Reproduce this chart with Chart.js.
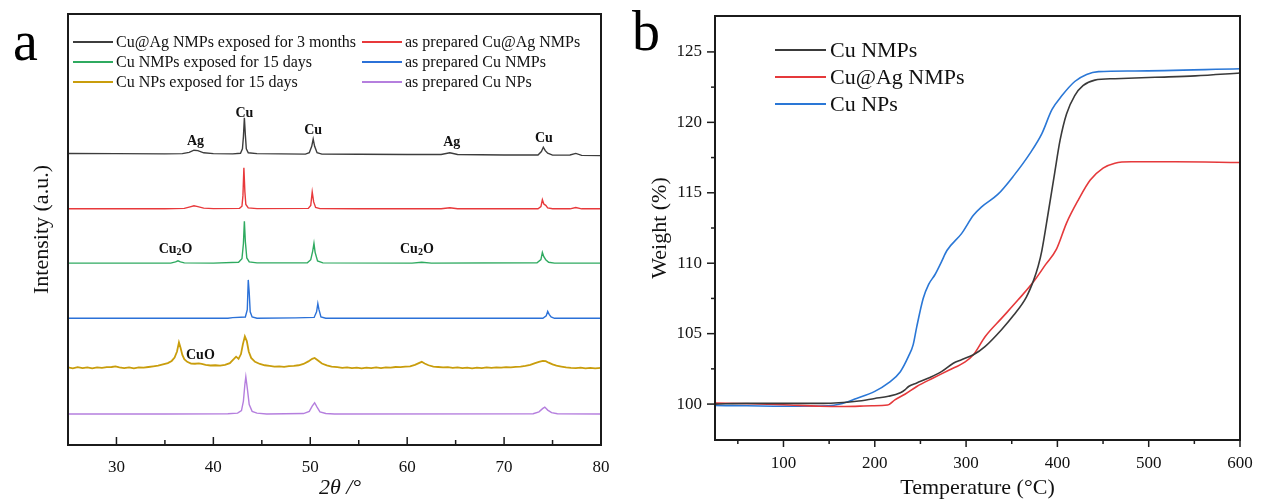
<!DOCTYPE html>
<html>
<head>
<meta charset="utf-8">
<script src="https://cdn.jsdelivr.net/npm/chart.js@4.4.1/dist/chart.umd.min.js"></script>
<style>
  body { margin: 0; background: #fff; }
  canvas { position: absolute; top: 0; }
  #xrd { left: 0; }
  #tga { left: 631px; }
</style>
</head>
<body>
<canvas id="xrd" width="631" height="499"></canvas>
<canvas id="tga" width="632" height="499"></canvas>
<script>
// ---- panel a: XRD patterns, [2theta, intensity above own baseline] ----
const xrdNames = ['Cu@Ag NMPs exposed for 3 months', 'as prepared Cu@Ag NMPs',
  'Cu NMPs exposed for 15 days', 'as prepared Cu NMPs',
  'Cu NPs exposed for 15 days', 'as prepared Cu NPs'];
const xrdOffsets = [67.5, 54.8, 42.2, 29.4, 17.9, 7.2];

const agedCuAg = [[25,0.15],[30,0.1],[35,0.05],[36.8,0.1],[37.5,0.4],[38.0,0.9],[38.4,0.8],[39,0.3],[40,0.1],[42,0.05],
  [42.8,0.2],[43.0,1.2],[43.1,4],[43.2,8.4],[43.3,4.5],[43.4,1.2],[43.6,0.3],[44.5,0.1],[49.5,0],[49.9,0.3],[50.15,1.8],
  [50.3,3.5],[50.45,1.8],[50.7,0.3],[51.2,0],[55,-0.05],[60,-0.1],[63.5,-0.1],[64.4,0.3],[65.2,-0.1],[70,-0.2],[73.5,-0.2],
  [73.85,0.6],[74.05,1.6],[74.25,0.8],[74.5,0.2],[75,-0.25],[76.8,-0.2],[77.4,0.15],[78,-0.3],[80,-0.35]];
const freshCuAg = [[25,0],[30,0],[35,0],[37,0.1],[37.6,0.45],[38.0,0.7],[38.4,0.5],[39,0.15],[40,0.05],[42.7,0.1],[42.95,0.6],
  [43.05,3],[43.15,9.5],[43.25,4],[43.35,1],[43.6,0.2],[44.5,0.05],[49.8,0.1],[50.05,0.8],[50.2,3.9],[50.35,1.6],[50.55,0.3],
  [51,0.05],[55,0],[63.5,0],[64.4,0.25],[65.2,0],[73.5,0],[73.8,0.5],[73.95,2.1],[74.1,1.1],[74.3,0.8],[74.5,0.2],[75,0],
  [76.8,0],[77.4,0.3],[78,0],[80,0]];
const agedCuNmp = [[25,0],[30,0],[35.6,0],[36.1,0.3],[36.35,0.55],[36.6,0.3],[37,0.05],[40,0],[42.6,0.2],[42.95,1],[43.1,4.5],
  [43.2,9.7],[43.3,5],[43.45,1.2],[43.7,0.3],[44.5,0.05],[49.7,0.1],[50.05,0.8],[50.25,2.8],[50.38,4.6],[50.5,2.5],[50.75,0.5],
  [51.3,0.05],[60.5,0],[61.5,0.2],[62.5,0],[73.4,0.1],[73.8,0.8],[73.95,2.5],[74.1,1.5],[74.3,0.8],[74.6,0.2],[75.2,0],[80,0]];
const freshCuNmp = [[25,0],[35,0],[41.5,0],[42,0.15],[43.3,0.3],[43.5,2],[43.6,8.9],[43.7,6],[43.8,1.5],[44,0.3],[44.5,0],
  [48.5,0.1],[50.4,0.2],[50.65,1.5],[50.78,3.4],[50.9,2],[51.1,0.3],[51.6,0],[74,0],[74.35,0.6],[74.5,1.6],[74.65,0.9],
  [74.85,0.3],[75.2,0],[80,0]];
const agedCuNp = [[25,0.1],[25.5,-0.1],[26,0.15],[26.5,-0.05],[27,0.1],[27.5,-0.1],[28,0.1],[28.5,0],[29,0.15],[29.5,0.2],
  [29.9,0.35],[30.3,0.1],[30.8,-0.05],[31.3,0.1],[31.8,-0.1],[32.3,0.1],[32.8,0.05],[33.3,0.2],[33.8,0.35],[34.3,0.5],
  [34.8,0.8],[35.3,1.1],[35.7,1.6],[36.0,2.4],[36.25,3.8],[36.45,5.9],[36.6,4.8],[36.8,3.0],[37.0,2.0],[37.3,1.4],[37.7,1.0],
  [38.1,0.95],[38.5,1.05],[38.8,0.9],[39.2,0.7],[39.7,0.55],[40.2,0.6],[40.7,0.5],[41.2,0.7],[41.7,1.1],[42.1,2.0],[42.35,2.6],
  [42.6,2.1],[42.85,3.2],[43.05,5.5],[43.25,7.3],[43.45,6.2],[43.65,3.8],[43.9,2.3],[44.3,1.4],[44.8,0.9],[45.3,0.6],
  [45.8,0.45],[46.3,0.3],[46.8,0.35],[47.3,0.25],[47.8,0.4],[48.3,0.45],[48.8,0.6],[49.3,0.9],[49.8,1.5],[50.2,2.1],[50.45,2.3],
  [50.8,1.7],[51.2,1.0],[51.7,0.6],[52.2,0.3],[52.8,0.15],[53.3,0.0],[53.8,0.1],[54.3,-0.05],[54.8,0.05],[55.3,-0.1],
  [55.8,0.05],[56.3,-0.05],[56.8,0.1],[57.3,-0.05],[57.8,0.1],[58.3,0.05],[58.8,0.2],[59.3,0.15],[59.8,0.3],[60.3,0.35],
  [60.8,0.7],[61.2,1.1],[61.5,1.4],[61.8,1.0],[62.2,0.6],[62.7,0.3],[63.2,0.2],[63.7,0.1],[64.2,0.15],[64.7,0],[65.2,0.1],
  [65.7,-0.05],[66.2,0.05],[66.7,-0.1],[67.2,0.05],[67.7,-0.05],[68.2,0.1],[68.7,0],[69.2,0.1],[69.7,0.05],[70.2,0.15],
  [70.7,0.1],[71.2,0.25],[71.7,0.3],[72.2,0.45],[72.7,0.7],[73.2,1.1],[73.6,1.4],[74.0,1.6],[74.3,1.55],[74.6,1.2],[75.0,0.8],
  [75.4,0.5],[75.9,0.3],[76.4,0.1],[76.9,0.0],[77.4,-0.05],[77.9,0.05],[78.4,-0.1],[78.9,0],[79.4,-0.1],[80,0.0]];
const freshCuNp = [[25,0],[35,0],[41.5,0.05],[42.5,0.2],[42.9,0.8],[43.1,3],[43.25,6.8],[43.35,8.6],[43.5,6],[43.7,2.2],
  [44,0.6],[44.5,0.2],[45.5,0],[49.3,0.1],[49.9,0.6],[50.2,1.8],[50.45,2.6],[50.7,1.6],[51,0.5],[51.6,0.1],[52.5,0],
  [73,0.05],[73.6,0.5],[74.0,1.3],[74.2,1.6],[74.5,0.9],[74.9,0.3],[75.5,0.05],[80,0]];
const xrdSeries = [agedCuAg, freshCuAg, agedCuNmp, freshCuNmp, agedCuNp, freshCuNp];

const xrdTicks = [30, 40, 50, 60, 70, 80];
const xrdMinor = [35, 45, 55, 65, 75];
// phase tags: [text, 2theta, intensity]
const peakLabels = [['Ag', 38.15, 70.5], ['Cu', 43.2, 77.0], ['Cu', 50.3, 73.1], ['Ag', 64.6, 70.1], ['Cu', 74.1, 71.2],
  ['Cu_2O', 36.1, 45.5], ['Cu_2O', 61.0, 45.5], ['CuO', 38.66, 20.9]];

// ---- panel b: TGA, [temperature, weight %] ----
const tgaNames = ['Cu NMPs', 'Cu@Ag NMPs', 'Cu NPs'];
const cuNmps = [[25,100.0],[60,100.05],[100,100.05],[144,100.05],[180,100.2],[200,100.4],[215,100.55],[228,100.8],[233,101.0],
  [237,101.25],[246,101.5],[259,101.85],[273,102.3],[286,102.9],[295,103.15],[308,103.5],[321,104.1],[339,105.3],[352,106.3],
  [366,107.6],[374,108.8],[379,109.8],[383,110.9],[390,113.6],[397,116.4],[403,118.75],[410,120.6],[419,121.9],[428,122.6],
  [441,123.0],[463,123.1],[507,123.2],[551,123.3],[600,123.5]];
const cuAgNmps = [[25,100.07],[65,100.02],[100,99.95],[140,99.85],[167,99.83],[197,99.88],[214,99.93],[222,100.3],[233,100.7],
  [246,101.25],[264,101.85],[281,102.4],[299,103.0],[308,103.5],[321,104.8],[339,106.1],[357,107.4],[374,108.7],[387,109.9],
  [399,111.0],[410,112.85],[423,114.5],[436,115.9],[450,116.75],[463,117.1],[481,117.2],[529,117.2],[600,117.15]];
const cuNps = [[25,99.9],[60,99.88],[100,99.85],[149,99.88],[162,100.0],[180,100.4],[200,100.9],[215,101.5],[228,102.3],
  [237,103.4],[242,104.2],[246,105.5],[253,107.5],[259,108.5],[266,109.2],[273,110.1],[279,110.9],[295,112.1],[308,113.4],
  [317,114.0],[335,114.9],[352,116.2],[370,117.8],[383,119.2],[394,120.9],[405,121.9],[419,122.9],[432,123.4],[445,123.6],
  [485,123.65],[600,123.8]];
const tgaSeries = [cuNmps, cuAgNmps, cuNps];
const tgaXTicks = [100, 200, 300, 400, 500, 600];
const tgaXMinor = [50, 150, 250, 350, 450, 550];
const tgaYTicks = [100, 105, 110, 115, 120, 125];
const tgaYMinor = [102.5, 107.5, 112.5, 117.5, 122.5];

// styles
const xrdColors = ['#3d3d3d', '#e8393b', '#2faa60', '#2b71d8', '#c99d0c', '#b57fde'];
const tgaColors = ['#3a3a3a', '#e5393b', '#2a77d6'];
const SERIF = "'Liberation Serif', 'Times New Roman', serif";
const INK = '#111';

const frame = {
  id: 'frame',
  afterDatasetsDraw(chart, args, o) {
    const { ctx, chartArea: a, scales } = chart;
    ctx.save();
    ctx.strokeStyle = '#1b1b1b';
    ctx.lineWidth = 1.5;
    o.ticks.forEach(t => {
      const s = scales[t.axis];
      t.values.forEach(v => {
        const p = s.getPixelForValue(v);
        ctx.beginPath();
        if (t.axis === 'x') { ctx.moveTo(p, a.bottom); ctx.lineTo(p, a.bottom + t.len); }
        else { ctx.moveTo(a.left, p); ctx.lineTo(a.left - t.len, p); }
        ctx.stroke();
      });
    });
    ctx.lineWidth = 2;
    ctx.strokeRect(a.left, a.top, a.right - a.left, a.bottom - a.top);
    ctx.restore();
  }
};

const boxLegend = {
  id: 'boxLegend',
  afterDraw(chart, args, o) {
    const ctx = chart.ctx;
    ctx.save();
    ctx.font = o.font;
    ctx.textBaseline = 'middle';
    ctx.fillStyle = INK;
    chart.data.datasets.forEach((ds, i) => {
      const col = i % o.cols, row = Math.floor(i / o.cols);
      const x = o.x[col], y = o.y + row * o.rowH;
      ctx.strokeStyle = ds.borderColor;
      ctx.lineWidth = 2;
      ctx.beginPath(); ctx.moveTo(x, y); ctx.lineTo(x + o.lineLen, y); ctx.stroke();
      ctx.fillText(ds.label, x + o.lineLen + o.gap, y + 1);
    });
    ctx.font = o.letterFont;
    ctx.textBaseline = 'alphabetic';
    ctx.fillStyle = '#000';
    ctx.fillText(o.letter, o.letterX, o.letterY);
    ctx.restore();
  }
};

const peakTags = {
  id: 'peakTags',
  afterDatasetsDraw(chart) {
    const { ctx, scales: { x, y } } = chart;
    ctx.save();
    ctx.fillStyle = INK;
    ctx.textBaseline = 'middle';
    ctx.textAlign = 'left';
    const big = 'bold 14px ' + SERIF, small = 'bold 10px ' + SERIF;
    peakLabels.forEach(([text, tx, ty]) => {
      const px = x.getPixelForValue(tx), py = y.getPixelForValue(ty);
      const [main, tail = ''] = text.split('_');
      const sub = tail.slice(0, 1), rest = tail.slice(1);
      ctx.font = big; const w1 = ctx.measureText(main).width, w3 = ctx.measureText(rest).width;
      ctx.font = small; const w2 = ctx.measureText(sub).width;
      let cx = px - (w1 + w2 + w3) / 2;
      ctx.font = big; ctx.fillText(main, cx, py); cx += w1;
      ctx.font = small; ctx.fillText(sub, cx, py + 4); cx += w2;
      ctx.font = big; ctx.fillText(rest, cx, py);
    });
    ctx.restore();
  }
};

const tickFont = { family: SERIF, size: 17 };
const titleFont = { family: SERIF, size: 22, lineHeight: 1 };
// keep the plot frame where we put it: no extra room for end labels
const fixX = h => s => { s.height = h; s.paddingLeft = 0; s.paddingRight = 0; };
const fixY = w => s => { s.width = w; s.paddingTop = 0; s.paddingBottom = 0; };

new Chart(document.getElementById('xrd'), {
  type: 'line',
  data: {
    datasets: xrdSeries.map((s, i) => ({
      label: xrdNames[i],
      data: s.map(p => [p[0], p[1] + xrdOffsets[i]]),
      borderColor: xrdColors[i],
      borderWidth: i === 4 ? 1.8 : 1.4,
      pointRadius: 0,
      tension: 0
    }))
  },
  options: {
    responsive: false, animation: false, devicePixelRatio: 1,
    layout: { padding: { left: 0, right: 30, top: 14, bottom: 0 } },
    plugins: {
      legend: { display: false }, tooltip: { enabled: false },
      frame: { ticks: [{ axis: 'x', values: xrdTicks, len: -8 }, { axis: 'x', values: xrdMinor, len: -5 }] },
      boxLegend: { font: '16px ' + SERIF, cols: 2, x: [73, 362], y: 42, rowH: 20, lineLen: 40, gap: 3,
        letter: 'a', letterFont: '56px ' + SERIF, letterX: 13, letterY: 60 }
    },
    scales: {
      x: {
        type: 'linear', min: 25, max: 80,
        grid: { display: false, drawTicks: false }, border: { display: false },
        afterBuildTicks: s => { s.ticks = xrdTicks.map(v => ({ value: v })); },
        afterFit: fixX(54),
        ticks: { padding: 12, font: tickFont, color: INK, maxRotation: 0 },
        title: { display: true, text: '\u20022θ /°', font: { ...titleFont, style: 'italic' }, padding: 0, color: INK }
      },
      y: {
        min: 0, max: 100,
        grid: { display: false, drawTicks: false }, border: { display: false },
        ticks: { display: false },
        afterFit: fixY(68),
        title: { display: true, text: 'Intensity (a.u.)', font: titleFont, padding: { top: 31 }, color: INK }
      }
    }
  },
  plugins: [frame, boxLegend, peakTags]
});

new Chart(document.getElementById('tga'), {
  type: 'line',
  data: {
    datasets: tgaSeries.map((s, i) => ({
      label: tgaNames[i],
      data: s,
      borderColor: tgaColors[i],
      borderWidth: 1.6,
      pointRadius: 0,
      cubicInterpolationMode: 'monotone'
    }))
  },
  options: {
    responsive: false, animation: false, devicePixelRatio: 1,
    layout: { padding: { left: 0, right: 23, top: 16, bottom: 0 } },
    plugins: {
      legend: { display: false }, tooltip: { enabled: false },
      frame: { ticks: [{ axis: 'x', values: tgaXTicks, len: 7 }, { axis: 'x', values: tgaXMinor, len: 4 },
        { axis: 'y', values: tgaYTicks, len: 8 }, { axis: 'y', values: tgaYMinor, len: 4 }] },
      boxLegend: { font: '22px ' + SERIF, cols: 1, x: [144], y: 50, rowH: 27, lineLen: 51, gap: 4,
        letter: 'b', letterFont: '56px ' + SERIF, letterX: 1, letterY: 50 }
    },
    scales: {
      x: {
        type: 'linear', min: 25, max: 600,
        grid: { display: false, drawTicks: false }, border: { display: false },
        afterBuildTicks: s => { s.ticks = tgaXTicks.map(v => ({ value: v })); },
        afterFit: fixX(59),
        ticks: { padding: 13, font: tickFont, color: INK, maxRotation: 0 },
        title: { display: true, text: 'Temperature (°C)', font: titleFont, padding: 0, color: INK }
      },
      y: {
        min: 97.45, max: 127.55,
        grid: { display: false, drawTicks: false }, border: { display: false },
        afterBuildTicks: s => { s.ticks = tgaYTicks.map(v => ({ value: v })); },
        afterFit: fixY(84),
        ticks: { padding: 13, font: tickFont, color: INK },
        title: { display: true, text: 'Weight (%)', font: titleFont, padding: { top: 18 }, color: INK }
      }
    }
  },
  plugins: [frame, boxLegend]
});
</script>
</body>
</html>
